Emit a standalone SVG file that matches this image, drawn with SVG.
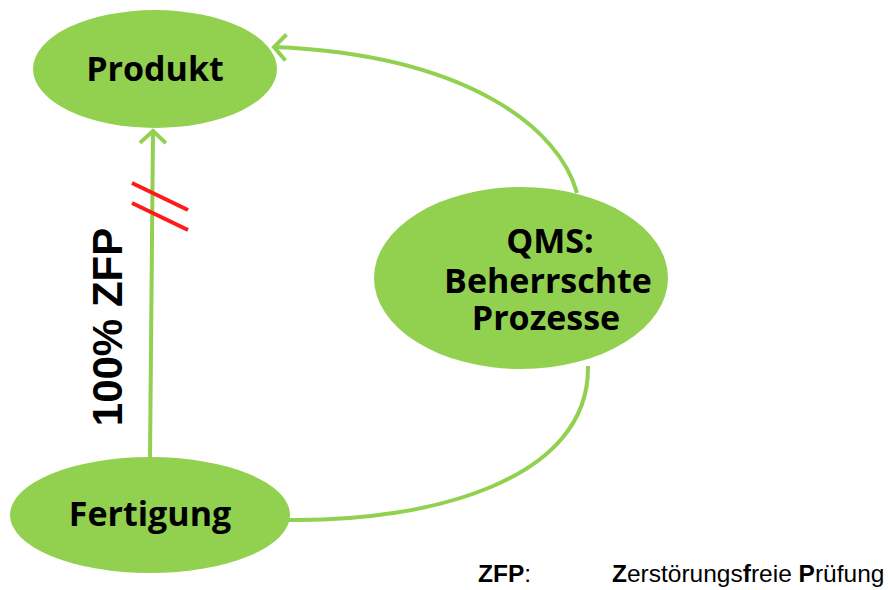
<svg xmlns="http://www.w3.org/2000/svg" width="893" height="590" viewBox="0 0 893 590">
<style>
.node{fill:#92D050;}
.lbl{font-family:"Open Sans","Noto Sans",sans-serif;font-weight:bold;font-size:34px;fill:#000;text-anchor:middle;}
.con{fill:none;stroke:#92D050;stroke-width:4;}
.cut{stroke:#FF1A1A;stroke-width:4;}
.leg{font-family:"Liberation Sans",Arial,sans-serif;font-size:24.5px;fill:#000;}
</style>
<defs>
<marker id="arr" markerUnits="userSpaceOnUse" markerWidth="40" markerHeight="40" viewBox="-20 -20 40 40" refX="0" refY="0" orient="auto">
<path d="M-12,-13 L0,0 L-12,13" fill="none" stroke="#92D050" stroke-width="4"/>
</marker>
</defs>
<g id="connectors">
<path class="con" d="M150,457 L153,131" marker-end="url(#arr)"/>
<path class="con" d="M577,193 C560,130 470,55 274,47" marker-end="url(#arr)"/>
<path class="con" d="M288,520 C430,522 590,480 588,366"/>
<line class="cut" x1="132" y1="183" x2="188" y2="210"/>
<line class="cut" x1="132" y1="203" x2="188" y2="230"/>
</g>
<g id="produkt">
<ellipse class="node" cx="155" cy="69" rx="122" ry="59"/>
<text class="lbl" x="155" y="81">Produkt</text>
</g>
<g id="qms">
<ellipse class="node" cx="521" cy="278" rx="147" ry="91"/>
<text class="lbl"><tspan x="550" y="253">QMS:</tspan><tspan x="548" y="293">Beherrschte</tspan><tspan x="546" y="330">Prozesse</tspan></text>
</g>
<g id="fertigung">
<ellipse class="node" cx="150" cy="515" rx="140" ry="58"/>
<text class="lbl" x="150" y="526">Fertigung</text>
</g>
<g id="label-zfp">
<text transform="translate(122,327) rotate(-90)" font-family="'Liberation Sans',Arial,sans-serif" font-weight="bold" font-size="42" text-anchor="middle">100% ZFP</text>
</g>
<g id="legend">
<text class="leg" x="478" y="582"><tspan font-weight="bold">ZFP</tspan>:</text>
<text class="leg" x="612" y="582"><tspan font-weight="bold">Z</tspan>erstörungs<tspan font-weight="bold">f</tspan>reie <tspan font-weight="bold">P</tspan>rüfung</text>
</g>
</svg>
